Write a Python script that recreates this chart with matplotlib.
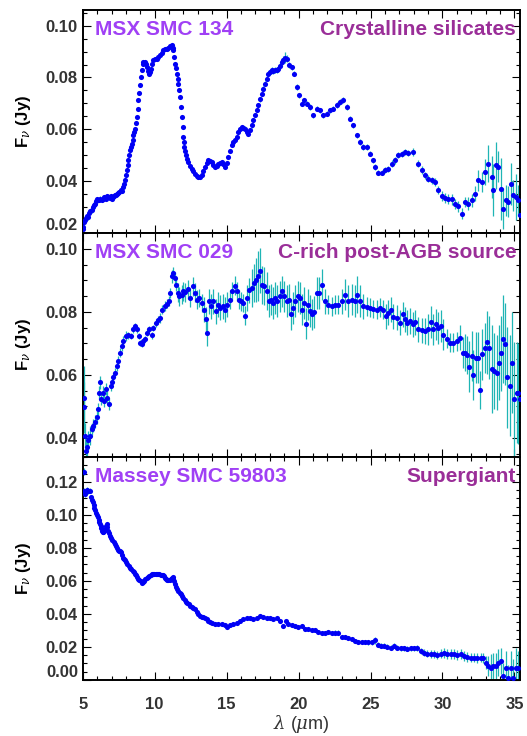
import matplotlib
matplotlib.use("Agg")
import matplotlib.pyplot as plt
from matplotlib.ticker import MultipleLocator, FixedLocator

plt.rcParams['font.family'] = ['Liberation Sans', 'DejaVu Sans']
plt.rcParams['mathtext.fontset'] = 'custom'
plt.rcParams['mathtext.rm'] = 'Liberation Sans:bold'
plt.rcParams['mathtext.it'] = 'DejaVu Serif:italic'

# ---------------- Panel 1: MSX SMC 134 ----------------
wl1 = [5.05,5.16,5.39,5.63,5.86,6.09,6.32,6.55,6.78,7.02,
       7.25,7.48,7.64,7.83,7.94,8.06,8.17,8.29,8.41,8.52,
       8.64,8.75,8.87,8.98,9.10,9.17,9.33,9.45,9.61,9.73,
       9.91,10.14,10.37,10.61,10.84,11.07,11.18,11.30,11.42,11.53,
       11.65,11.76,11.83,11.88,11.95,12.00,12.07,12.16,12.34,12.57,
       12.81,13.04,13.27,13.50,13.73,13.96,14.20,14.43,14.66,14.89,
       15.12,15.35,15.59,15.82,16.05,16.28,16.51,16.74,16.98,17.21,
       17.44,17.67,17.90,18.13,18.37,18.60,18.83,19.06,19.22,19.36,
       19.52,19.69,19.87,20.03,20.22,20.40,20.57,20.80,21.03,21.26,
       21.49,21.73,21.96,22.19,22.42,22.65,22.88,23.11,23.35,23.58,
       23.81,24.04,24.27,24.50,24.74,24.97,25.15,25.31,25.55,25.78,
       26.01,26.24,26.47,26.70,26.94,27.17,27.40,27.63,27.98,28.33,
       28.56,28.79,29.02,29.25,29.48,29.72,29.95,30.18,30.41,30.64,
       30.87,31.11,31.34,31.57,31.80,32.03,32.26,32.50,32.73,32.96,
       33.19,33.42,33.54,33.72,33.88,34.05,34.23,34.42,34.58,34.74,
       34.93,35.11,35.23,35.39,
       5.02,5.10,5.22,5.30,5.45,5.52,5.70,5.78,5.95,6.02,
       6.15,6.22,6.40,6.48,6.62,6.70,6.88,6.95,7.10,7.18,
       7.32,7.40,7.55,7.70,7.88,8.00,8.12,8.23,8.35,8.46,
       8.58,8.70,8.81,8.93,9.04,9.22,9.39,9.53,9.67,9.82,
       10.02,10.25,10.49,10.72,10.95,11.12,11.24,11.36,11.48,11.59,
       11.70,12.03,12.11,12.25,12.45,12.69,12.92,13.15,13.38,13.62,
       13.85,14.08,14.32,14.55,14.78,15.00,15.24,15.47,15.70,15.94,
       16.17,16.40,16.62,16.86,17.10,17.33,17.56,17.79,18.02,18.25,
       18.48,18.72,18.95]
flux1 = [.0223,.0249,.0262,.0287,.0313,.0329,.0326,.0336,.0339,.0332,
         .0345,.0354,.0365,.0378,.0403,.0442,.0480,.0519,.0545,.0577,
         .0603,.0648,.0712,.0770,.0828,.0853,.0860,.0840,.0812,.0834,
         .0869,.0873,.0888,.0905,.0911,.0920,.0924,.0905,.0853,.0815,
         .0776,.0725,.0686,.0648,.0609,.0570,.0532,.0500,.0474,.0448,
         .0429,.0416,.0423,.0455,.0480,.0474,.0455,.0468,.0474,.0455,
         .0493,.0538,.0558,.0590,.0609,.0603,.0583,.0615,.0654,.0693,
         .0738,.0776,.0815,.0828,.0828,.0834,.0860,.0877,.0873,.0847,
         .0840,.0815,.0763,.0731,.0699,.0712,.0699,.0686,.0654,.0680,
         .0673,.0654,.0660,.0673,.0680,.0693,.0705,.0712,.0686,.0641,
         .0615,.0577,.0551,.0532,.0532,.0506,.0480,.0455,.0432,.0432,
         .0442,.0448,.0468,.0480,.0500,.0506,.0513,.0509,.0513,.0468,
         .0442,.0422,.0410,.0403,.0397,.0365,.0342,.0336,.0332,.0330,
         .0313,.0303,.0275,.0320,.0313,.0326,.0352,.0403,.0397,.0435,
         .0468,.0416,.0365,.0461,.0455,.0371,.0294,.0326,.0320,.0390,
         .0345,.0339,.0326,.0268,
         .0215,.0242,.0258,.0265,.0278,.0286,.0302,.0310,.0322,.0330,
         .0327,.0333,.0330,.0338,.0333,.0342,.0336,.0342,.0338,.0344,
         .0348,.0350,.0358,.0362,.0388,.0425,.0462,.0500,.0532,.0560,
         .0590,.0625,.0680,.0742,.0800,.0858,.0852,.0825,.0820,.0852,
         .0872,.0880,.0896,.0908,.0915,.0918,.0915,.0880,.0835,.0795,
         .0750,.0551,.0516,.0487,.0460,.0438,.0420,.0418,.0440,.0470,
         .0478,.0462,.0460,.0472,.0466,.0470,.0515,.0550,.0572,.0600,
         .0606,.0590,.0598,.0635,.0673,.0716,.0757,.0796,.0822,.0826,
         .0830,.0846,.0868]
err1 = [.0015,.001,.001,.0008,.0008,.0008,.0008,.0008,.0008,.0008,
        .0008,.0008,.0006,.0006,.0005,.0005,.0005,.0005,.0005,.0005,
        .0005,.0005,.0005,.0005,.0005,.0005,.0005,.0005,.0005,.0005,
        .0005,.0005,.0005,.0005,.0005,.0005,.0005,.0005,.0005,.0005,
        .0005,.0005,.0005,.0005,.0005,.0005,.0005,.0005,.0005,.0005,
        .0005,.0005,.0005,.0006,.0006,.0006,.0006,.0006,.0006,.0006,
        .0008,.0008,.0008,.0008,.0008,.0008,.0008,.0008,.0008,.001,
        .001,.001,.001,.0012,.0012,.0012,.0015,.002,.0015,.0012,
        .001,.001,.001,.001,.001,.001,.001,.001,.001,.001,
        .001,.001,.001,.001,.001,.0012,.0012,.0012,.001,.001,
        .001,.001,.001,.001,.001,.001,.001,.001,.001,.001,
        .0012,.0012,.0012,.0012,.0012,.0012,.0012,.0012,.0015,.0015,
        .0015,.0015,.0015,.0015,.0015,.0015,.002,.002,.002,.002,
        .002,.002,.002,.002,.0025,.0025,.003,.004,.004,.005,
        .007,.008,.010,.009,.006,.012,.008,.006,.006,.008,
        .006,.009,.006,.007,
        .0015,.001,.001,.001,.0008,.0008,.0008,.0008,.0008,.0008,
        .0008,.0008,.0008,.0008,.0008,.0008,.0008,.0008,.0008,.0008,
        .0008,.0008,.0008,.0006,.0006,.0005,.0005,.0005,.0005,.0005,
        .0005,.0005,.0005,.0005,.0005,.0005,.0005,.0005,.0005,.0005,
        .0005,.0005,.0005,.0005,.0005,.0005,.0005,.0005,.0005,.0005,
        .0005,.0005,.0005,.0005,.0005,.0005,.0005,.0005,.0006,.0006,
        .0006,.0006,.0006,.0006,.0006,.0008,.0008,.0008,.0008,.0008,
        .0008,.0008,.0008,.0008,.0008,.001,.001,.001,.0012,.0012,
        .0012,.0012,.0015]

# ---------------- Panel 2: MSX SMC 029 ----------------
wl2 = [5.09,5.09,5.16,5.23,5.32,5.39,5.51,5.63,5.74,5.86,
       5.97,6.09,6.16,6.20,6.27,6.39,6.48,6.62,6.71,6.85,
       6.95,7.04,7.13,7.25,7.36,7.48,7.59,7.71,7.83,8.01,
       8.17,8.34,8.47,8.61,8.75,8.89,8.98,9.10,9.22,9.35,
       9.49,9.63,9.80,9.91,10.07,10.24,10.37,10.54,10.70,10.84,
       10.98,11.09,11.21,11.30,11.39,11.49,11.60,11.72,11.88,12.00,
       12.13,12.30,12.46,12.64,12.81,12.97,13.11,13.27,13.43,13.57,
       13.66,13.78,13.92,14.08,14.24,14.40,14.57,14.73,14.89,15.05,
       15.24,15.40,15.56,15.70,15.86,16.03,16.17,16.30,16.44,16.58,
       16.74,16.91,17.05,17.18,17.32,17.46,17.62,17.79,17.93,18.06,
       18.20,18.37,18.53,18.71,18.88,19.01,19.18,19.34,19.48,19.62,
       19.78,19.94,20.10,20.24,20.38,20.52,20.68,20.80,20.94,21.08,
       21.26,21.42,21.63,21.84,22.07,22.30,22.54,22.77,23.00,23.23,
       23.46,23.69,23.93,24.09,24.27,24.50,24.74,24.97,25.20,25.43,
       25.66,25.89,26.08,26.24,26.40,26.59,26.82,27.05,27.23,27.40,
       27.56,27.75,27.93,28.09,28.33,28.56,28.79,29.02,29.18,29.37,
       29.55,29.72,29.90,30.06,30.29,30.53,30.76,30.99,31.22,31.41,
       31.57,31.69,31.87,32.03,32.15,32.34,32.50,32.61,32.77,32.96,
       33.12,33.26,33.42,33.58,33.77,33.93,34.07,34.23,34.37,34.51,
       34.70,34.86,35.00,35.16,35.27,35.39]
flux2 = [.0528,.0497,.0407,.0360,.0371,.0392,.0407,.0428,.0439,.0452,
         .0465,.0492,.0544,.0576,.0523,.0544,.0518,.0555,.0528,.0507,
         .0565,.0576,.0592,.0607,.0628,.0644,.0671,.0692,.0707,.0723,
         .0725,.0723,.0744,.0755,.0744,.0723,.0702,.0697,.0707,.0713,
         .0734,.0744,.0725,.0749,.0765,.0774,.0781,.0807,.0818,.0826,
         .0834,.0860,.0913,.0923,.0907,.0886,.0860,.0849,.0855,.0865,
         .0862,.0871,.0844,.0881,.0860,.0839,.0844,.0828,.0807,.0776,
         .0732,.0834,.0818,.0834,.0802,.0823,.0813,.0818,.0807,.0823,
         .0839,.0865,.0883,.0865,.0839,.0834,.0828,.0788,.0844,.0868,
         .0876,.0892,.0902,.0913,.0931,.0886,.0881,.0865,.0834,.0839,
         .0828,.0844,.0834,.0849,.0865,.0849,.0834,.0839,.0792,.0813,
         .0834,.0849,.0844,.0807,.0828,.0763,.0823,.0802,.0792,.0799,
         .0860,.0860,.0886,.0834,.0823,.0818,.0823,.0823,.0834,.0855,
         .0834,.0839,.0834,.0855,.0834,.0818,.0816,.0813,.0809,.0807,
         .0813,.0807,.0786,.0797,.0807,.0784,.0781,.0765,.0792,.0776,
         .0765,.0771,.0760,.0767,.0744,.0741,.0739,.0744,.0767,.0744,
         .0760,.0749,.0755,.0728,.0715,.0702,.0702,.0707,.0718,.0671,
         .0671,.0662,.0626,.0660,.0599,.0655,.0655,.0552,.0665,.0686,
         .0704,.0686,.0618,.0613,.0607,.0639,.0668,.0715,.0697,.0592,
         .0565,.0639,.0523,.0544,.0542,.0523]
err2 = [.010,.008,.004,.003,.003,.003,.003,.002,.002,.002,
        .002,.002,.002,.002,.002,.002,.002,.002,.002,.002,
        .0015,.0015,.0015,.0015,.0015,.0015,.0015,.0015,.0015,.0015,
        .001,.001,.001,.001,.001,.001,.001,.001,.001,.001,
        .001,.001,.001,.001,.0012,.0012,.0015,.0015,.0015,.0015,
        .0015,.0015,.002,.002,.002,.002,.003,.003,.003,.003,
        .003,.003,.003,.003,.003,.003,.003,.003,.004,.004,
        .004,.004,.004,.004,.004,.004,.004,.004,.004,.004,
        .003,.003,.003,.003,.003,.003,.003,.003,.004,.004,
        .006,.006,.007,.008,.007,.006,.006,.006,.005,.005,
        .005,.005,.005,.005,.005,.005,.005,.005,.005,.005,
        .005,.005,.005,.005,.005,.005,.005,.005,.005,.005,
        .005,.005,.005,.004,.003,.003,.003,.003,.004,.005,
        .005,.005,.005,.006,.005,.004,.003,.003,.003,.003,
        .003,.003,.004,.004,.004,.004,.004,.004,.004,.004,
        .004,.004,.004,.004,.004,.004,.004,.005,.005,.005,
        .005,.005,.005,.005,.003,.003,.003,.003,.004,.005,
        .006,.006,.008,.008,.008,.008,.008,.006,.008,.008,
        .010,.010,.014,.012,.012,.012,.012,.014,.013,.016,
        .016,.016,.018,.016,.016,.014]

# ---------------- Panel 3: Massey SMC 59803 ----------------
wl3 = [5.09,5.09,5.19,5.28,5.39,5.51,5.60,5.69,5.81,5.93,
       6.04,6.16,6.25,6.34,6.44,6.55,6.67,6.78,6.90,7.06,
       7.22,7.36,7.50,7.64,7.78,7.94,8.10,8.29,8.47,8.64,
       8.80,8.94,9.10,9.26,9.45,9.63,9.80,9.98,10.14,10.33,
       10.49,10.65,10.79,10.95,11.12,11.25,11.35,11.46,11.65,11.81,
       11.99,12.18,12.37,12.57,12.81,13.04,13.27,13.50,13.73,13.96,
       14.20,14.43,14.66,14.89,15.05,15.24,15.47,15.70,15.93,16.17,
       16.40,16.63,16.86,17.09,17.32,17.56,17.79,18.02,18.25,18.48,
       18.71,18.94,19.11,19.29,19.52,19.76,19.99,20.22,20.45,20.68,
       20.91,21.15,21.38,21.61,21.84,22.07,22.30,22.54,22.77,23.00,
       23.23,23.46,23.69,23.93,24.16,24.39,24.62,24.85,25.08,25.31,
       25.50,25.71,25.94,26.17,26.40,26.64,26.87,27.10,27.33,27.56,
       27.79,28.03,28.26,28.49,28.72,28.95,29.18,29.42,29.65,29.88,
       30.11,30.34,30.57,30.80,31.04,31.27,31.50,31.73,31.96,32.19,
       32.43,32.66,32.84,33.03,33.19,33.35,33.54,33.72,33.88,34.05,
       34.23,34.42,34.58,34.74,34.93,35.11,35.27,
       5.65,5.75,5.87,5.99,6.10,6.21,6.30,6.39,6.50,6.61,
       6.72,6.84,6.98,7.14,7.29,7.43,7.57,7.71,7.86,8.02,
       8.19,8.38,8.56,8.72,8.87,9.02,9.18,9.35,9.54,9.71,
       9.89,10.06,10.24,10.41,10.57,10.72,10.87,11.04,11.19,11.30,
       11.40,11.55,11.73,11.90,12.08,12.27,12.47,12.69,12.92,13.15,
       13.38,13.61,13.85]
flux3 = [.1261,.1145,.1125,.1149,.1145,.1145,.1105,.1075,.1044,.1014,
         .0984,.0954,.0933,.0903,.0893,.0913,.0943,.0903,.0873,.0846,
         .0822,.0798,.0782,.0772,.0741,.0725,.0701,.0681,.0661,.0644,
         .0624,.0604,.0590,.0600,.0620,.0630,.0640,.0644,.0640,.0640,
         .0636,.0630,.0610,.0604,.0610,.0624,.0600,.0564,.0539,.0519,
         .0499,.0475,.0459,.0442,.0428,.0398,.0382,.0378,.0358,.0348,
         .0341,.0341,.0337,.0333,.0323,.0333,.0341,.0348,.0358,.0368,
         .0378,.0374,.0368,.0378,.0388,.0382,.0374,.0378,.0368,.0374,
         .0358,.0327,.0358,.0337,.0333,.0327,.0321,.0327,.0307,.0307,
         .0301,.0301,.0293,.0287,.0287,.0293,.0287,.0287,.0287,.0261,
         .0261,.0257,.0248,.0234,.0228,.0228,.0228,.0228,.0228,.0240,
         .0212,.0206,.0206,.0200,.0196,.0206,.0196,.0192,.0192,.0190,
         .0192,.0192,.0196,.0176,.0166,.0160,.0156,.0156,.0152,.0160,
         .0164,.0156,.0160,.0156,.0152,.0156,.0146,.0140,.0136,.0136,
         .0132,.0136,.0132,.0105,.0085,.0075,.0085,.0085,.0105,.0115,
         .0024,.0075,.0010,.0075,.0010,.0075,.0075,
         .1090,.1060,.1030,.0998,.0968,.0942,.0918,.0896,.0900,.0930,
         .0925,.0888,.0860,.0835,.0810,.0790,.0778,.0756,.0733,.0713,
         .0690,.0671,.0652,.0634,.0614,.0597,.0593,.0610,.0625,.0636,
         .0642,.0642,.0641,.0638,.0633,.0620,.0606,.0607,.0618,.0612,
         .0582,.0552,.0529,.0509,.0487,.0467,.0450,.0435,.0413,.0390,
         .0380,.0368,.0353]
err3 = [.002,.002,.002,.002,.002,.0015,.0012,.001,.001,.001,
        .001,.001,.001,.001,.001,.001,.001,.001,.001,.001,
        .0008,.0008,.0008,.0008,.0008,.0008,.0008,.0008,.0008,.0008,
        .0008,.0008,.0008,.0008,.0008,.0008,.0008,.0008,.0008,.0008,
        .0008,.0008,.0008,.0008,.0008,.0008,.0008,.0008,.0008,.0008,
        .0008,.0008,.0008,.0008,.0008,.0008,.0008,.0008,.0008,.0008,
        .0008,.0008,.0008,.0008,.0008,.0008,.0008,.0008,.0008,.0008,
        .0008,.0008,.0008,.0008,.0012,.0008,.0008,.0008,.0008,.0008,
        .0008,.0008,.001,.001,.001,.001,.001,.001,.001,.001,
        .001,.001,.001,.001,.001,.001,.001,.0015,.0015,.0012,
        .0012,.0012,.0012,.0012,.0012,.0012,.0012,.0015,.0015,.002,
        .0015,.0015,.0015,.0015,.0015,.0015,.0015,.0015,.0015,.0015,
        .0015,.0015,.0018,.002,.002,.002,.0025,.0025,.0025,.0025,
        .003,.003,.003,.003,.003,.003,.003,.003,.003,.003,
        .003,.003,.003,.004,.006,.008,.008,.008,.008,.008,
        .008,.010,.008,.010,.012,.012,.010,
        .001,.001,.001,.001,.001,.001,.001,.001,.001,.001,
        .001,.001,.001,.0008,.0008,.0008,.0008,.0008,.0008,.0008,
        .0008,.0008,.0008,.0008,.0008,.0008,.0008,.0008,.0008,.0008,
        .0008,.0008,.0008,.0008,.0008,.0008,.0008,.0008,.0008,.0008,
        .0008,.0008,.0008,.0008,.0008,.0008,.0008,.0008,.0008,.0008,
        .0008,.0008,.0008]

panels = [
    (wl1, flux1, err1, (0.02, 0.1062), [0.02, 0.04, 0.06, 0.08, 0.10],
     "MSX SMC 134", "Crystalline silicates"),
    (wl2, flux2, err2, (0.0341, 0.105), [0.04, 0.06, 0.08, 0.10],
     "MSX SMC 029", "C-rich post-AGB source"),
    (wl3, flux3, err3, (0.0, 0.1353), [0.00, 0.02, 0.04, 0.06, 0.08, 0.10, 0.12],
     "Massey SMC 59803", "Supergiant"),
]

for w, f, e, *_ in panels:
    assert len(w) == len(f) == len(e), (len(w), len(f), len(e))

fig = plt.figure(figsize=(5.27, 7.36), dpi=100)
fig.subplots_adjust(left=0.157, right=0.987, top=0.987, bottom=0.0761, hspace=0)
axes = fig.subplots(3, 1, sharex=True)

dot_color = '#0000F5'
err_color = '#1FB5B5'
lab_color = '#333333'

for i, (ax, (w, f, e, ylim, yt, name, kind)) in enumerate(zip(axes, panels)):
    ax.errorbar(w, f, yerr=e, fmt='none', ecolor=err_color, elinewidth=0.9,
                capsize=0, zorder=2)
    ax.plot(w, f, 'o', color=dot_color, ms=3.7, mec='none', zorder=3)
    ax.set_xlim(5, 35.4)
    ax.set_ylim(*ylim)
    ax.yaxis.set_major_locator(FixedLocator(yt))
    ax.set_yticklabels(['%.2f' % v for v in yt])
    ax.yaxis.set_minor_locator(MultipleLocator(0.005))
    ax.xaxis.set_major_locator(MultipleLocator(5))
    ax.xaxis.set_minor_locator(MultipleLocator(1))
    ax.tick_params(which='both', direction='in', top=True, right=True,
                   colors='black', labelcolor=lab_color, labelsize=12, width=0.8)
    ax.tick_params(which='major', length=6)
    ax.tick_params(which='minor', length=3)
    for lbl in ax.get_yticklabels():
        lbl.set_fontweight('bold')
    for sp in ax.spines.values():
        sp.set_linewidth(1.4)
    ax.set_ylabel(r'F$_\nu$ (Jy)', fontsize=12, fontweight='bold', color='black')
    ax.yaxis.set_label_coords(-0.113, 0.5)
    ax.text(0.028, 0.912, name, transform=ax.transAxes, fontsize=15,
            fontweight='bold', color='#A040F5', ha='left', va='center')
    ax.text(0.991, 0.912, kind, transform=ax.transAxes, fontsize=15,
            fontweight='bold', color='#9A2E98', ha='right', va='center')
    if i in (0, 2):
        ax.yaxis.get_major_ticks()[0].label1.set_verticalalignment('bottom')

axes[2].set_xticks([5, 10, 15, 20, 25, 30, 35])
axes[2].set_xticklabels(['5', '10', '15', '20', '25', '30', '35'], fontweight='bold')
axes[2].set_xlim(5, 35.4)
axes[2].tick_params(axis='x', which='major', pad=12)
axes[2].set_xlabel(r'$\lambda$ ($\mu$m)', fontsize=13, color=lab_color, va='center')
axes[2].xaxis.set_label_coords(0.5, -0.195)

fig.savefig('out.png', dpi=100)
